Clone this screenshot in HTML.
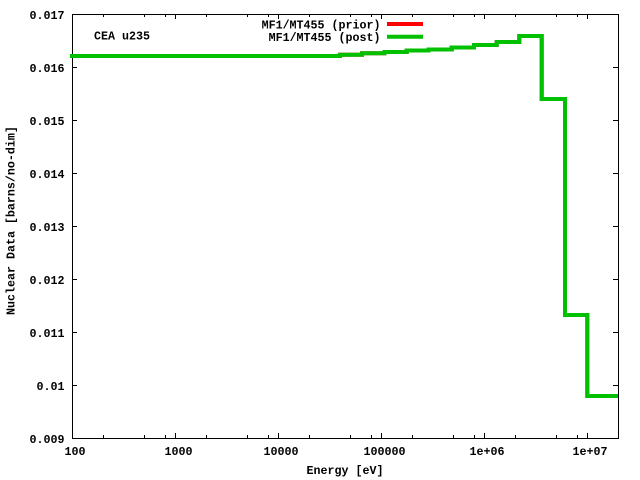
<!DOCTYPE html>
<html>
<head>
<meta charset="utf-8">
<style>
  html, body { margin: 0; padding: 0; background: #ffffff; }
  svg { display: block; }
  text { font-family: "Liberation Mono", "DejaVu Sans Mono", monospace; font-weight: bold; font-size: 11.67px; fill: #000; }
</style>
</head>
<body>
<svg width="640" height="480" viewBox="0 0 640 480" xmlns="http://www.w3.org/2000/svg">
  <rect x="0" y="0" width="640" height="480" fill="#ffffff"/>

  <!-- ticks -->
  <g stroke="#000" stroke-width="1" fill="none" shape-rendering="crispEdges">
    <!-- y major ticks left & right -->
    <path d="M72,67.5 H77 M72,120.5 H77 M72,173.5 H77 M72,226.5 H77 M72,279.5 H77 M72,332.5 H77 M72,385.5 H77
             M618,67.5 H613 M618,120.5 H613 M618,173.5 H613 M618,226.5 H613 M618,279.5 H613 M618,332.5 H613 M618,385.5 H613"/>
    <!-- x major ticks bottom & top -->
    <path d="M175.5,438 V433 M278.5,438 V433 M381.5,438 V433 M484.5,438 V433 M587.5,438 V433
             M175.5,14 V19 M278.5,14 V19 M381.5,14 V19 M484.5,14 V19 M587.5,14 V19"/>
    <!-- x minor ticks bottom -->
    <path d="M103.5,438 V435 M144.5,438 V435 M165.5,438 V435
             M206.5,438 V435 M247.5,438 V435 M268.5,438 V435
             M309.5,438 V435 M350.5,438 V435 M371.5,438 V435
             M412.5,438 V435 M453.5,438 V435 M474.5,438 V435
             M515.5,438 V435 M556.5,438 V435 M577.5,438 V435"/>
    <!-- x minor ticks top -->
    <path d="M103.5,14 V17 M144.5,14 V17 M165.5,14 V17
             M206.5,14 V17 M247.5,14 V17 M268.5,14 V17
             M309.5,14 V17 M350.5,14 V17 M371.5,14 V17
             M412.5,14 V17 M453.5,14 V17 M474.5,14 V17
             M515.5,14 V17 M556.5,14 V17 M577.5,14 V17"/>
    <!-- border -->
    <rect x="72.5" y="14.5" width="546" height="424"/>
  </g>

  <!-- y tick labels -->
  <g text-anchor="end">
    <text x="64.5" y="19">0.017</text>
    <text x="64.5" y="72">0.016</text>
    <text x="64.5" y="125">0.015</text>
    <text x="64.5" y="178">0.014</text>
    <text x="64.5" y="231">0.013</text>
    <text x="64.5" y="284">0.012</text>
    <text x="64.5" y="337">0.011</text>
    <text x="64.5" y="390">0.01</text>
    <text x="64.5" y="443">0.009</text>
  </g>

  <!-- x tick labels -->
  <g text-anchor="middle">
    <text x="75" y="455">100</text>
    <text x="178.5" y="455">1000</text>
    <text x="281" y="455">10000</text>
    <text x="384.5" y="455">100000</text>
    <text x="487" y="455">1e+06</text>
    <text x="590" y="455">1e+07</text>
  </g>

  <!-- axis labels -->
  <text x="306.5" y="474">Energy [eV]</text>
  <text transform="translate(14.5,315) rotate(-90)">Nuclear Data [barns/no-dim]</text>

  <!-- annotation -->
  <text x="94" y="39.5">CEA u235</text>

  <!-- legend -->
  <g text-anchor="end">
    <text x="380.5" y="28.5">MF1/MT455 (prior)</text>
    <text x="380.5" y="41">MF1/MT455 (post)</text>
  </g>
  <path d="M387,24 H423" stroke="#ff0000" stroke-width="4" fill="none"/>
  <path d="M387,36.7 H423" stroke="#00c000" stroke-width="4" fill="none"/>

  <!-- data (prior, hidden under post) -->
  <path d="M70,56 H340 V54.7 H362 V53.3 H384.5 V52 H406.7 V50.5 H428.5 V49.5 H451.7 V47.5 H474 V45 H496.7 V42 H519.3 V36 H541.7 V99 H565 V315 H587.3 V396 H618"
        stroke="#ff0000" stroke-width="4" fill="none" stroke-linejoin="miter" stroke-linecap="butt"/>
  <!-- data (post) -->
  <path d="M70,56 H340 V54.7 H362 V53.3 H384.5 V52 H406.7 V50.5 H428.5 V49.5 H451.7 V47.5 H474 V45 H496.7 V42 H519.3 V36 H541.7 V99 H565 V315 H587.3 V396 H618"
        stroke="#00c000" stroke-width="4" fill="none" stroke-linejoin="miter" stroke-linecap="butt"/>
</svg>
</body>
</html>
